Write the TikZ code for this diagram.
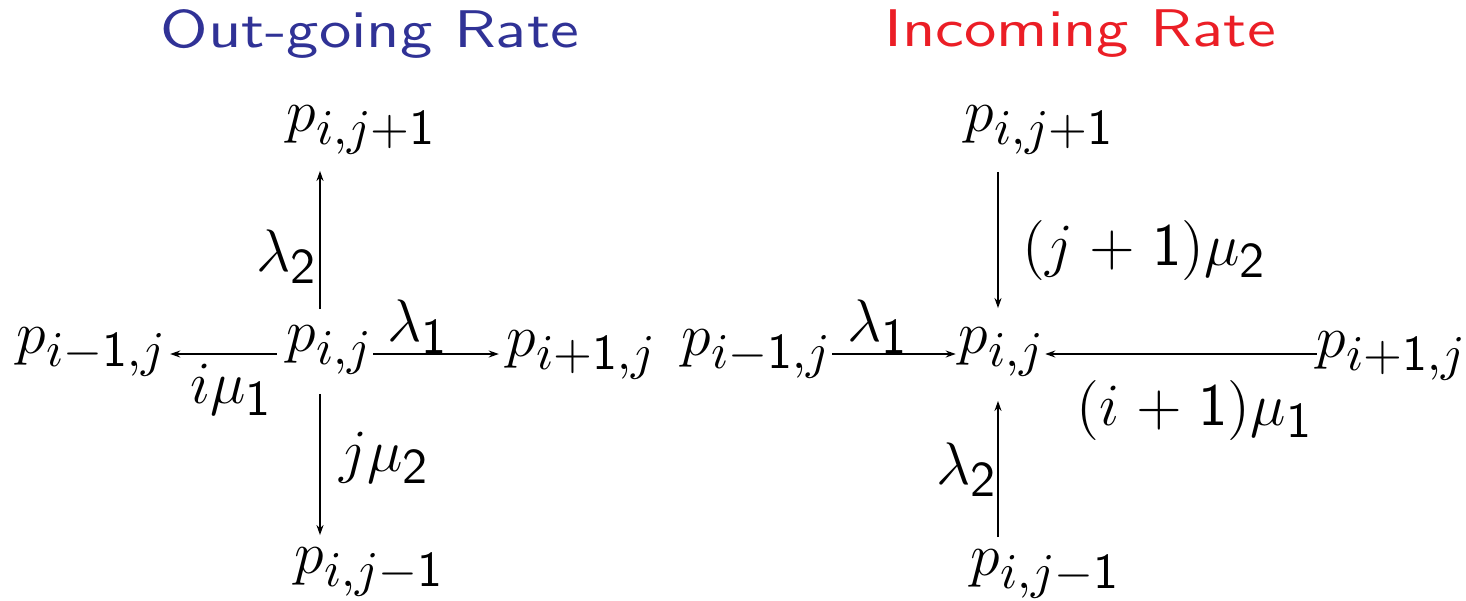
\documentclass[tikz,border=0pt]{standalone}
\usetikzlibrary{arrows.meta}
\definecolor{titleblue}{RGB}{48,50,150}
\definecolor{titlered}{RGB}{235,30,38}
\DeclareMathSizes{12.8}{12.8}{9.8}{7.5}
\newcommand{\one}{\mathsf{1}}
\newcommand{\two}{\mathsf{2}}
\newcommand{\widebin}{\medmuskip=5mu\relax}
\begin{document}
\begin{tikzpicture}[x=0.2pt,y=-0.2pt,
  every node/.style={inner sep=0pt,outer sep=0pt},
  lbl/.style={font=\fontsize{12.8}{15}\selectfont},
  st/.style={font=\fontsize{12.8}{15}\selectfont},
  ttl/.style={font=\fontsize{10.6}{13}\selectfont\sffamily},
  arr/.style={draw=black,line width=0.3pt,-{Stealth[length=2pt,width=1.4pt]}}]
\useasboundingbox (0,0) rectangle (1466,600);
% titles
\node[ttl,text=titleblue] (t1) at (370,34) {\scalebox{1.22}[1]{Out-going Rate}};
\node[ttl,text=titlered] (t2) at (1080,34) {\scalebox{1.22}[1]{Incoming Rate}};
% left
\coordinate (L) at (320,0);
\coordinate (H) at (0,354);
\node[st] (lpij) at (330,350) {$p_{i,j}$};
\node[st] (lup) at (362,130) {$p_{i,j+\one}$};
\node[st] (ldn) at (370,572) {$p_{i,j-\one}$};
\node[st] (llt) at (92,352) {$p_{i-\one,j}$};
\node[st] (lrt) at (582,355) {$p_{i+\one,j}$};
\draw[arr,shorten <=3.4pt,shorten >=3.4pt] (lpij.north -| L) -- (lup.south -| L);
\draw[arr,shorten <=4pt,shorten >=2.6pt] (lpij.south -| L) -- (ldn.north -| L);
\draw[arr,shorten <=2pt,shorten >=0.6pt] (lpij.west |- H) -- (llt.east |- H);
\draw[arr,shorten >=1.6pt] (lpij.east |- H) -- (lrt.west |- H);
\node[lbl] (l1) at (287,257) {$\lambda_\two$};
\node[lbl] (l2) at (232,390) {$i\mu_\one$};
\node[lbl] (l3) at (418,327) {$\lambda_\one$};
\node[lbl] (l4) at (385,458) {$j\mu_\two$};
% right
\coordinate (R) at (998,0);
\node[st] (rpij) at (1002,352) {$p_{i,j}$};
\node[st] (rup) at (1040,130) {$p_{i,j+\one}$};
\node[st] (rdn) at (1046,574) {$p_{i,j-\one}$};
\node[st] (rlt) at (757,354) {$p_{i-\one,j}$};
\node[st] (rrt) at (1392,356) {$p_{i+\one,j}$};
\draw[arr,shorten <=3.6pt,shorten >=4pt] (rup.south -| R) -- (rpij.north -| R);
\draw[arr,shorten <=2.6pt,shorten >=5pt] (rdn.north -| R) -- (rpij.south -| R);
\draw[arr,shorten >=0.6pt] (rlt.east |- H) -- (rpij.west |- H);
\draw[arr] (rrt.west |- H) -- (rpij.east |- H);
\node[lbl] (r1) at (1145,250) {$\widebin(j+\one)\mu_\two$};
\node[lbl] (r2) at (878,327) {$\lambda_\one$};
\node[lbl] (r3) at (1195,410) {$\widebin(i+\one)\mu_\one$};
\node[lbl] (r4) at (967,470) {$\lambda_\two$};
\end{tikzpicture}
\end{document}
